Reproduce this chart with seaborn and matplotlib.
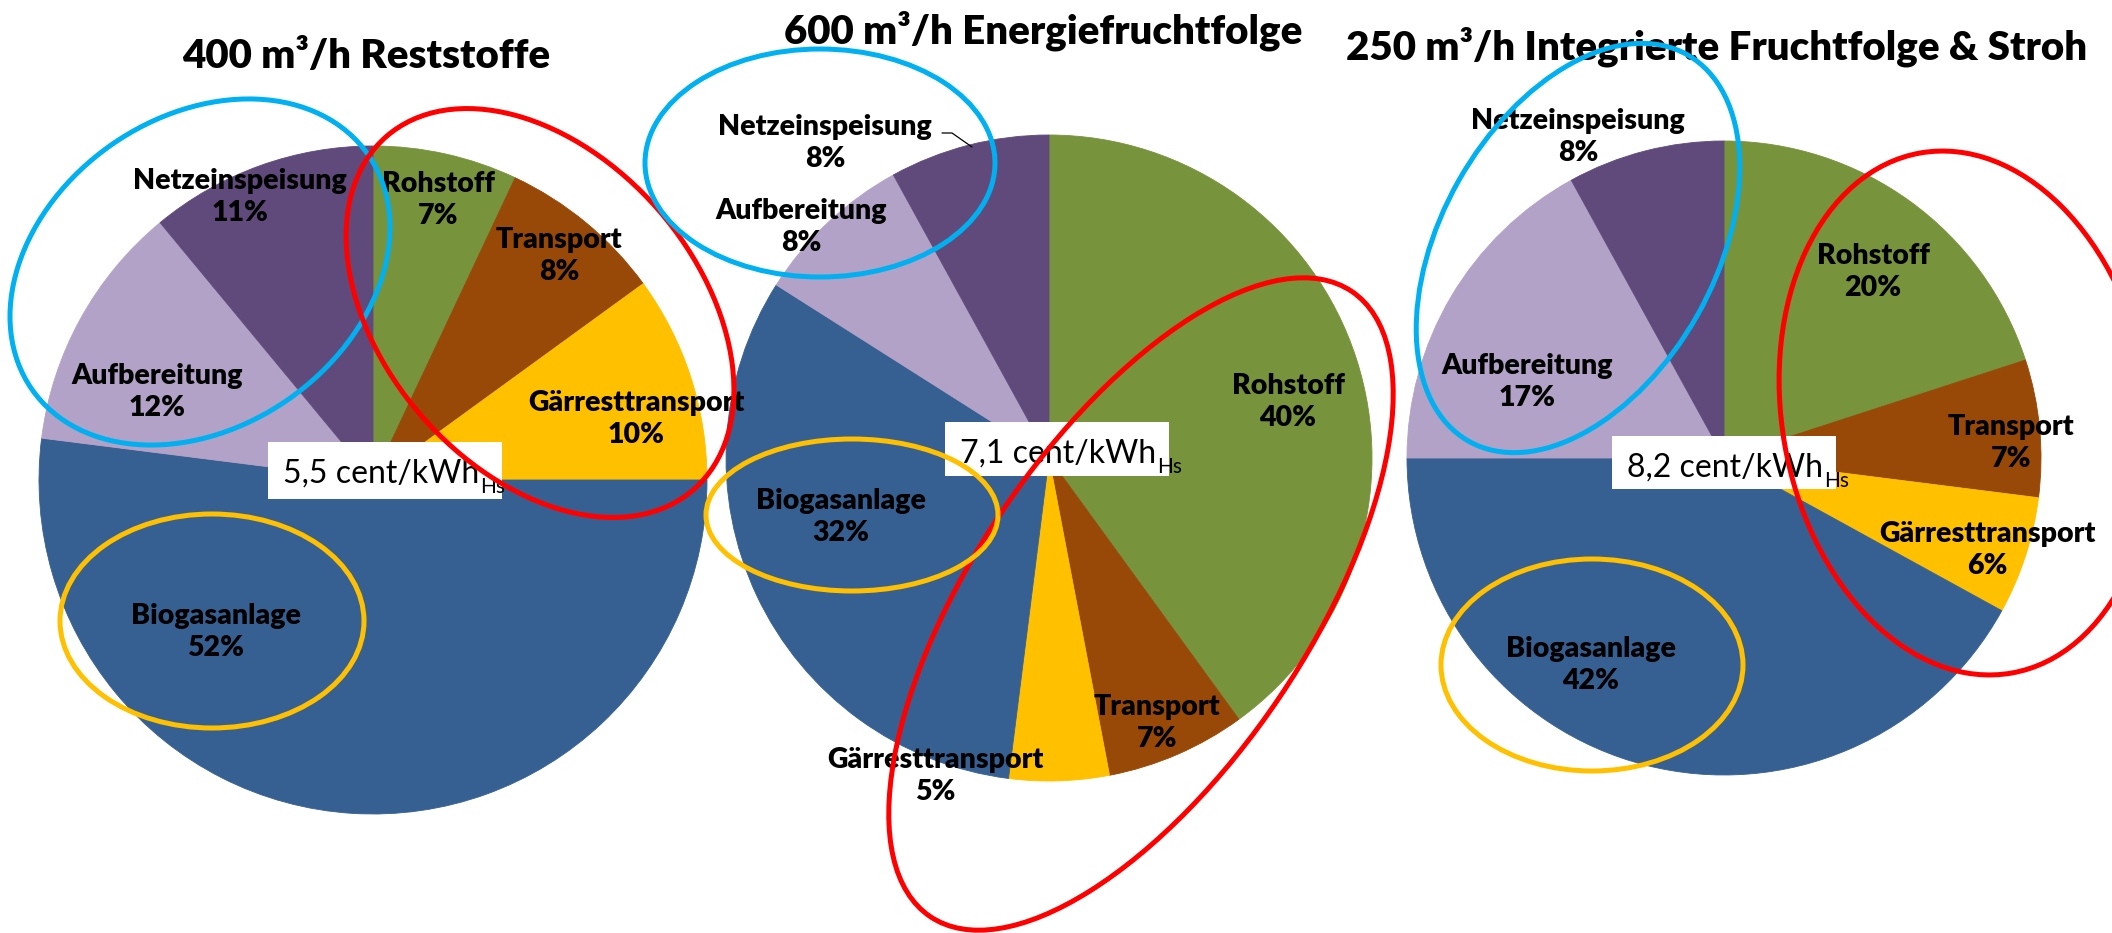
import matplotlib
matplotlib.use("Agg")
import matplotlib.pyplot as plt
import seaborn as sns
from matplotlib.patches import Ellipse, Rectangle

# ---------------- data ----------------
categories = ["Rohstoff", "Transport", "Gärresttransport",
              "Biogasanlage", "Aufbereitung", "Netzeinspeisung"]
reststoffe = [7, 8, 10, 52, 12, 11]
energiefruchtfolge = [40, 7, 5, 32, 8, 8]
integrierte_fruchtfolge = [20, 7, 6, 42, 17, 8]
titles = ["400 m³/h Reststoffe",
          "600 m³/h Energiefruchtfolge",
          "250 m³/h Integrierte Fruchtfolge & Stroh"]
costs = ["5,5", "7,1", "8,2"]
series = [reststoffe, energiefruchtfolge, integrierte_fruchtfolge]

# ---------------- style / layout ----------------
colors = sns.color_palette(["#77933C", "#984807", "#FFC000",
                            "#376092", "#B3A2C7", "#604A7B"])
W, H = 2112, 933

pie_layout = [  # centre x, centre y (pixels from top), radius
    (373, 480, 334),
    (1049, 458, 323),
    (1724, 458, 317),
]
title_pos = [(366, 57), (1043, 31), (1717, 47)]
box_pos = [(268, 442, 234, 57), (945, 422, 224, 54), (1612, 436, 224, 53)]
label_pos = [
    [(438, 200), (559, 256), (636, 419), (216, 632), (157, 392), (240, 197)],
    [(1288, 402), (1157, 723), (935, 776), (841, 517), (801, 227), (825, 143)],
    [(1873, 272), (2011, 443), (1987, 550), (1591, 665), (1527, 382), (1578, 137)],
]
# annotation rings: centre x, centre y, semi-axis a, semi-axis b, tilt (deg, clockwise on screen), colour
rings = [
    (200, 272, 205, 155, -35, "#00B0F0"),
    (540, 313, 234, 157, 49, "#FF0000"),
    (212, 621, 152, 107, 0, "#FFC000"),
    (820, 163, 175, 114, 0, "#00B0F0"),
    (1141, 604, 377, 167, -56, "#FF0000"),
    (852, 515, 146, 76, 0, "#FFC000"),
    (1578, 248, 222, 137, -60.5, "#00B0F0"),
    (1966, 413, 264, 184, 80, "#FF0000"),
    (1592, 665, 151, 106, 0, "#FFC000"),
]

sns.set_theme(style="white")
plt.rcParams["font.family"] = ["Lato", "DejaVu Sans"]

fig = plt.figure(figsize=(W / 100, H / 100), dpi=100)
ax = fig.add_axes([0, 0, 1, 1])
ax.set_xlim(0, W)
ax.set_ylim(0, H)
ax.set_autoscale_on(False)
renderer = fig.canvas.get_renderer()


def sy(y):
    return H - y


clip_rect = Rectangle((0, 0), 2094, H, transform=ax.transData)

for i, vals in enumerate(series):
    cx, cy, r = pie_layout[i]
    wedges, _ = ax.pie(vals, colors=colors, startangle=90, counterclock=False,
                       center=(cx, sy(cy)), radius=r, frame=True,
                       wedgeprops=dict(linewidth=0.6))
    for w in wedges:
        w.set_edgecolor(w.get_facecolor())
    tx, ty = title_pos[i]
    ax.text(tx, sy(ty), titles[i], ha="center", va="center",
            fontsize=29, fontweight="heavy", color="black", zorder=4)
    for cat, v, (lx, ly) in zip(categories, vals, label_pos[i]):
        t = ax.text(lx, sy(ly), f"{cat}\n{v}%", ha="center", va="center",
                    fontsize=20.5, fontweight="heavy", color="black",
                    linespacing=1.32, zorder=4)
        t.set_clip_path(clip_rect)
    bx, by, bw, bh = box_pos[i]
    ax.add_patch(Rectangle((bx, sy(by + bh)), bw, bh, facecolor="white",
                           edgecolor="none", zorder=4))
    main = ax.text(bx + 15, sy(by + 41), costs[i] + " cent/kWh",
                   ha="left", va="baseline", fontsize=23, color="black", zorder=4.5)
    ext = main.get_window_extent(renderer=renderer)
    ax.text(ext.x1 + 1, sy(by + 51), "Hs", ha="left", va="baseline",
            fontsize=15, color="black", zorder=4.5)

# leader line for the outside label of the middle pie
ax.plot([942, 952, 972], [sy(133), sy(133), sy(147)], color="black", lw=0.9, zorder=4)

for x, y, a, b, th, col in rings:
    ax.add_patch(Ellipse((x, sy(y)), 2 * a, 2 * b, angle=-th, fill=False,
                         edgecolor=col, linewidth=3.6, zorder=6))

ax.set_xlim(0, W)
ax.set_ylim(0, H)
ax.set_aspect("equal", adjustable="box")
ax.axis("off")

fig.savefig("out.png", dpi=100, facecolor="white")
